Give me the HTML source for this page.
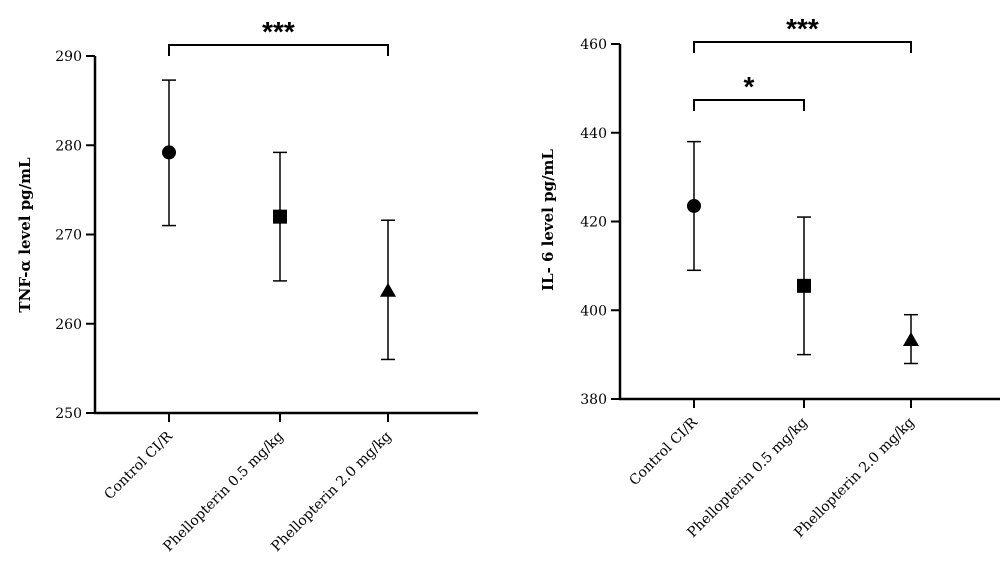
<!DOCTYPE html>
<html><head><meta charset="utf-8">
<style>
body{margin:0;background:#fff;}
svg{display:block;font-family:"DejaVu Serif","Liberation Serif",serif;}
</style></head>
<body>
<svg id="chart" width="1000" height="578" viewBox="0 0 1000 578" xmlns="http://www.w3.org/2000/svg"></svg>
<script>
const categories = ["Control CI/R", "Phellopterin 0.5 mg/kg", "Phellopterin 2.0 mg/kg"];
const tnfMean = [279.2, 272.0, 263.7];
const tnfLow = [271.0, 264.8, 256.0];
const tnfHigh = [287.3, 279.2, 271.6];
const tnfTicks = [250, 260, 270, 280, 290];
const il6Mean = [423.5, 405.5, 393.3];
const il6Low = [409.0, 390.0, 388.0];
const il6High = [438.0, 421.0, 399.0];
const il6Ticks = [380, 400, 420, 440, 460];
const markers = ["circle", "square", "triangle"];

const NS = "http://www.w3.org/2000/svg";
const svg = document.getElementById("chart");
function mk(tag, attrs, parent) {
  const e = document.createElementNS(NS, tag);
  for (const k in attrs) e.setAttribute(k, attrs[k]);
  (parent || svg).appendChild(e);
  return e;
}

function panel(cfg) {
  const g = mk("g", {});
  
  
  const y = v => cfg.yTop + (cfg.max - v) / (cfg.max - cfg.min) * (cfg.yBot - cfg.yTop);
  const x = i => cfg.xs[i];
  // axes
  const ya = mk("line", {x1: cfg.axX, x2: cfg.axX, y1: cfg.yTop, y2: cfg.yBot, stroke: "#000", "stroke-width": 2.5}, g);
  
  
  const xa = mk("line", {x1: cfg.axX - 1, x2: cfg.axEnd, y1: cfg.yBot, y2: cfg.yBot, stroke: "#000", "stroke-width": 2.5}, g);
  
  
  cfg.ticks.forEach(t => {
    mk("line", {x1: cfg.axX - 9, x2: cfg.axX, y1: y(t), y2: y(t), stroke: "#000", "stroke-width": 2}, g);
    const tl = mk("text", {x: cfg.axX - 13, y: y(t) + 5, "text-anchor": "end", "font-size": 14}, g);
    tl.textContent = t;
    
    
  });
  categories.forEach((c, i) => {
    mk("line", {x1: x(i), x2: x(i), y1: cfg.yBot, y2: cfg.yBot + 9, stroke: "#000", "stroke-width": 2}, g);
    const tl = mk("text", {x: x(i) + 4, y: cfg.yBot + 24, "text-anchor": "end", "font-size": 14,
      transform: `rotate(-45 ${x(i) + 4} ${cfg.yBot + 24})`}, g);
    tl.textContent = c;
    
    
  });
  const yl = mk("text", {x: cfg.ylX, y: cfg.ylY, "text-anchor": "middle", "font-size": 15, "font-weight": "bold",
    transform: `rotate(-90 ${cfg.ylX} ${cfg.ylY})`}, g);
  yl.textContent = cfg.ylabel;
  
  
  // error bars + markers
  categories.forEach((c, i) => {
    const eb = mk("g", {}, g);
    
    
    const cx = x(i), lo = y(cfg.low[i]), hi = y(cfg.high[i]);
    mk("line", {x1: cx, x2: cx, y1: lo, y2: hi, stroke: "#000", "stroke-width": 1.5}, eb);
    mk("line", {x1: cx - 7, x2: cx + 7, y1: lo, y2: lo, stroke: "#000", "stroke-width": 1.5}, eb);
    mk("line", {x1: cx - 7, x2: cx + 7, y1: hi, y2: hi, stroke: "#000", "stroke-width": 1.5}, eb);
    const cy = y(cfg.mean[i]);
    let m;
    if (markers[i] === "circle") m = mk("circle", {cx: cx, cy: cy, r: 7, fill: "#000"}, g);
    else if (markers[i] === "square") m = mk("rect", {x: cx - 7, y: cy - 7, width: 14, height: 14, fill: "#000"}, g);
    else m = mk("polygon", {points: `${cx},${cy - 8} ${cx + 8},${cy + 6} ${cx - 8},${cy + 6}`, fill: "#000"}, g);
    
    
  });
  cfg.brackets.forEach(b => {
    const bg = mk("g", {}, g);
    
    
    const x1 = x(b.a), x2 = x(b.b);
    mk("polyline", {points: `${x1},${b.y + 11} ${x1},${b.y} ${x2},${b.y} ${x2},${b.y + 11}`, fill: "none", stroke: "#000", "stroke-width": 2}, bg);
    const s = mk("text", {x: (x1 + x2) / 2, y: b.y - 4, "text-anchor": "middle", "font-size": 28, "font-weight": "bold", "font-family": "Liberation Sans, sans-serif"}, bg);
    s.textContent = b.label;
  });
}

panel({name: "tnf-alpha-chart", min: 250, max: 290, yTop: 56, yBot: 413, axX: 95, axEnd: 478,
  xs: [169, 280, 388], ticks: tnfTicks, mean: tnfMean, low: tnfLow, high: tnfHigh,
  ylabel: "TNF-α level pg/mL", ylX: 30, ylY: 235,
  brackets: [{a: 0, b: 2, y: 45, label: "***"}]});
panel({name: "il6-chart", min: 380, max: 460, yTop: 44, yBot: 399, axX: 620, axEnd: 1000,
  xs: [694, 804, 911], ticks: il6Ticks, mean: il6Mean, low: il6Low, high: il6High,
  ylabel: "IL- 6 level pg/mL", ylX: 553, ylY: 220,
  brackets: [{a: 0, b: 2, y: 42, label: "***"}, {a: 0, b: 1, y: 100, label: "*"}]});
</script>
</body></html>
